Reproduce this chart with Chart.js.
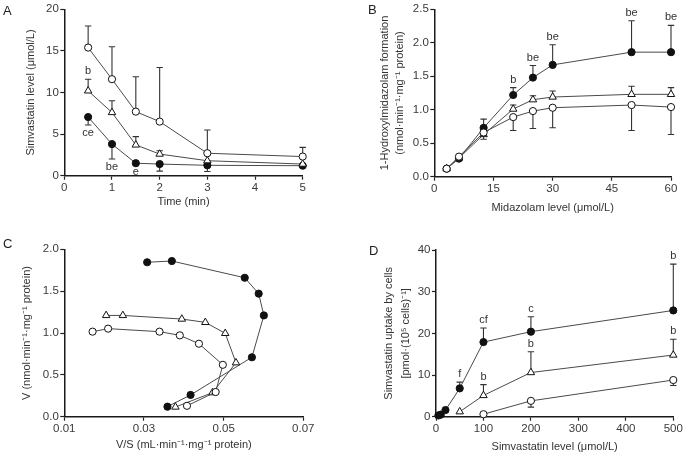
<!DOCTYPE html>
<html><head><meta charset="utf-8">
<script src="https://cdn.jsdelivr.net/npm/chart.js@4.4.1/dist/chart.umd.min.js"></script>
<style>
html,body{margin:0;padding:0;background:#fff;}
#wrap{position:relative;width:685px;height:456px;overflow:hidden;background:#fff;}
canvas{position:absolute;left:0;top:0;}
.lbl{position:absolute;font:13px 'Liberation Sans',Arial,sans-serif;color:#222;line-height:13px;}
</style></head><body>
<div id="wrap">
<canvas id="cA" width="685" height="456"></canvas>
<canvas id="cB" width="685" height="456"></canvas>
<canvas id="cC" width="685" height="456"></canvas>
<canvas id="cD" width="685" height="456"></canvas>
<div class="lbl" style="left:3px;top:3.5px">A</div>
<div class="lbl" style="left:368px;top:2.5px">B</div>
<div class="lbl" style="left:3px;top:237px">C</div>
<div class="lbl" style="left:369px;top:243.5px">D</div>
</div>
<script>
// ---------- Panel A: simvastatin level vs time ----------
const A_time = [0.5, 1, 1.5, 2, 3, 5];
const A_open = [15.4, 11.6, 7.7, 6.5, 2.7, 2.3];
const A_openErr = [18.0, 15.5, 11.9, 13.0, 5.5, 3.4];
const A_tri = [10.2, 7.6, 3.7, 2.6, 1.8, 1.4];
const A_triErr = [11.6, 9.0, 4.7, 3.0, null, null];
const A_fill = [7.05, 3.8, 1.5, 1.4, 1.25, 1.2];
const A_fillErr = [6.1, 2.0, null, 0.55, 0.5, null];
const A_xTicks = [0, 1, 2, 3, 4, 5];
const A_xLabels = ['0', '1', '2', '3', '4', '5'];
const A_yTicks = [0, 5, 10, 15, 20];
const A_yLabels = ['0', '5', '10', '15', '20'];

// ---------- Panel B: 1-hydroxymidazolam formation ----------
const B_conc = [3.125, 6.25, 12.5, 20, 25, 30, 50, 60];
const B_open = [0.12, 0.30, 0.66, 0.89, 0.98, 1.03, 1.07, 1.04];
const B_openErr = [null, null, null, 0.69, 0.72, 0.73, 0.69, 0.63];
const B_tri = [0.12, 0.28, 0.63, 1.01, 1.15, 1.19, 1.23, 1.23];
const B_triErr = [null, null, 0.56, 1.07, 1.21, 1.28, 1.35, 1.33];
const B_fill = [0.12, 0.27, 0.73, 1.22, 1.48, 1.67, 1.86, 1.86];
const B_fillErr = [null, null, 0.86, 1.33, 1.66, 1.97, 2.33, 2.26];
const B_xTicks = [0, 15, 30, 45, 60];
const B_xLabels = ['0', '15', '30', '45', '60'];
const B_yTicks = [0, 0.5, 1, 1.5, 2, 2.5];
const B_yLabels = ['0.0', '0.5', '1.0', '1.5', '2.0', '2.5'];

// ---------- Panel C: Eadie-Hofstee (V vs V/S) ----------
const C_openX = [0.0408, 0.0480, 0.0498, 0.0438, 0.0390, 0.0339, 0.0210, 0.0171];
const C_openY = [0.13, 0.295, 0.62, 0.872, 0.972, 1.016, 1.052, 1.016];
const C_triX = [0.0379, 0.0472, 0.0531, 0.0504, 0.0454, 0.0395, 0.0247, 0.0205];
const C_triY = [0.116, 0.287, 0.645, 0.996, 1.127, 1.167, 1.21, 1.21];
const C_fillX = [0.0359, 0.0417, 0.0571, 0.0601, 0.0588, 0.0553, 0.0370, 0.0308];
const C_fillY = [0.12, 0.26, 0.71, 1.21, 1.47, 1.66, 1.86, 1.845];
const C_xTicks = [0.01, 0.03, 0.05, 0.07];
const C_xLabels = ['0.01', '0.03', '0.05', '0.07'];
const C_yTicks = [0, 0.5, 1, 1.5, 2];
const C_yLabels = ['0.0', '0.5', '1.0', '1.5', '2.0'];

// ---------- Panel D: simvastatin uptake by cells ----------
const D_openConc = [100, 200, 500];
const D_open = [0.6, 3.8, 8.8];
const D_openErr = [null, 2.3, 7.5];
const D_triConc = [50, 100, 200, 500];
const D_tri = [1.2, 5.1, 10.6, 14.8];
const D_triErr = [null, 7.7, 15.6, 18.6];
const D_fillConc = [5, 10, 20, 50, 100, 200, 500];
const D_fill = [0.3, 0.5, 1.6, 6.8, 17.9, 20.4, 25.5];
const D_fillErr = [null, null, null, 8.3, 21.3, 24.0, 36.6];
const D_xTicks = [0, 100, 200, 300, 400, 500];
const D_xLabels = ['0', '100', '200', '300', '400', '500'];
const D_yTicks = [0, 10, 20, 30, 40];
const D_yLabels = ['0', '10', '20', '30', '40'];

// significance letters: series, point index, text, side
const A_notes = { tri: [{i: 0, t: 'b', dir: 'up'}], fill: [{i: 0, t: 'ce', dir: 'down'}, {i: 1, t: 'be', dir: 'down'}, {i: 2, t: 'e', dir: 'down'}] };
const B_notes = { fill: [{i: 3, t: 'b', dir: 'up'}, {i: 4, t: 'be', dir: 'up'}, {i: 5, t: 'be', dir: 'up'}, {i: 6, t: 'be', dir: 'up'}, {i: 7, t: 'be', dir: 'up'}] };
const D_notes = { tri: [{i: 1, t: 'b', dir: 'up'}, {i: 2, t: 'b', dir: 'up'}, {i: 3, t: 'b', dir: 'up'}], fill: [{i: 3, t: 'f', dir: 'up'}, {i: 4, t: 'cf', dir: 'up'}, {i: 5, t: 'c', dir: 'up'}, {i: 6, t: 'b', dir: 'up'}] };

const FONT = "'Liberation Sans', Arial, sans-serif";
Chart.defaults.font.family = FONT;

const pts = (xs, ys) => xs.map((x, i) => ({x: x, y: ys[i]}));

function series(kind, data, err, notes) {
  const filled = kind === 'fill';
  return {
    data: data,
    errEnd: err || null,
    notes: notes || [],
    showLine: true,
    borderColor: '#4a4a4a',
    borderWidth: 1,
    pointStyle: kind === 'tri' ? 'triangle' : 'circle',
    pointRadius: kind === 'tri' ? 4.3 : 3.6,
    pointBackgroundColor: filled ? '#111' : '#fff',
    pointBorderColor: '#111',
    pointBorderWidth: 1,
    clip: false,
    tension: 0
  };
}

const marks = {
  id: 'marks',
  beforeDatasetsDraw(chart) {
    const ctx = chart.ctx, xs = chart.scales.x, ys = chart.scales.y;
    ctx.save();
    ctx.strokeStyle = '#333';
    ctx.lineWidth = 1.1;
    chart.data.datasets.forEach(ds => {
      if (!ds.errEnd) return;
      ds.data.forEach((p, i) => {
        const e = ds.errEnd[i];
        if (e == null) return;
        const x = xs.getPixelForValue(p.x);
        const y0 = ys.getPixelForValue(p.y), y1 = ys.getPixelForValue(e);
        ctx.beginPath();
        ctx.moveTo(x, y0); ctx.lineTo(x, y1);
        ctx.moveTo(x - 3.2, y1); ctx.lineTo(x + 3.2, y1);
        ctx.stroke();
      });
    });
    ctx.restore();
  },
  afterDatasetsDraw(chart) {
    const ctx = chart.ctx, xs = chart.scales.x, ys = chart.scales.y;
    ctx.save();
    ctx.font = '11px ' + FONT;
    ctx.fillStyle = '#333';
    ctx.textAlign = 'center';
    ctx.textBaseline = 'middle';
    chart.data.datasets.forEach(ds => {
      ds.notes.forEach(n => {
        const p = ds.data[n.i];
        const hasErr = ds.errEnd && ds.errEnd[n.i] != null;
        const v = hasErr ? ds.errEnd[n.i] : p.y;
        const x = xs.getPixelForValue(p.x);
        const y = ys.getPixelForValue(v) + (n.dir === 'up' ? -8 : (hasErr ? 8 : 8.5));
        ctx.fillText(n.t, x, y);
      });
    });
    ctx.restore();
  }
};

function axis(ticks, labels, title, size, lineHeight, fitProp) {
  return {
    type: 'linear',
    min: ticks[0],
    max: ticks[ticks.length - 1],
    afterBuildTicks: s => { s.ticks = ticks.map(v => ({value: v})); },
    afterFit: s => { s[fitProp.prop] = fitProp.val; },
    ticks: {
      callback: (v, i) => labels[i],
      font: {size: 11.5, family: FONT},
      color: '#3a3a3a',
      padding: 1.5,
      maxRotation: 0,
      autoSkip: false
    },
    grid: {drawOnChartArea: false, drawTicks: true, tickLength: 4, tickColor: '#222', tickWidth: 1.2},
    border: {display: true, color: '#1a1a1a', width: 1.5},
    title: {display: true, text: title, font: {size: size, family: FONT, lineHeight: lineHeight}, color: '#333', padding: 0}
  };
}

function panel(id, pad, yW, xH, xAx, yAx, datasets) {
  new Chart(document.getElementById(id), {
    type: 'scatter',
    data: {datasets: datasets},
    options: {
      responsive: false,
      animation: false,
      events: [],
      layout: {padding: pad},
      plugins: {legend: {display: false}, tooltip: {enabled: false}},
      scales: {
        x: axis(xAx.ticks, xAx.labels, xAx.title, 11, 1.2, {prop: 'height', val: xH}),
        y: axis(yAx.ticks, yAx.labels, yAx.title, 11, yAx.lh || 1.2, {prop: 'width', val: yW})
      }
    },
    plugins: [marks]
  });
}

// Panel A
panel('cA', {left: 24.6, top: 9.3, right: 382.3, bottom: 247.1}, 39.7, 33.2,
  {ticks: A_xTicks, labels: A_xLabels, title: 'Time (min)'},
  {ticks: A_yTicks, labels: A_yLabels, title: 'Simvastatin level (μmol/L)'},
  [
    series('open', pts(A_time, A_open), A_openErr),
    series('tri', pts(A_time, A_tri), A_triErr, A_notes.tri),
    series('fill', pts(A_time, A_fill), A_fillErr, A_notes.fill)
  ]);

// Panel B
panel('cB', {left: 376.8, top: 9.3, right: 14, bottom: 241.1}, 57.5, 38.2,
  {ticks: B_xTicks, labels: B_xLabels, title: 'Midazolam level (μmol/L)'},
  {ticks: B_yTicks, labels: B_yLabels, title: ['1-Hydroxylmidazolam formation', '(nmol·min⁻¹·mg⁻¹ protein)'], lh: 1.4},
  [
    series('open', pts(B_conc, B_open), B_openErr),
    series('tri', pts(B_conc, B_tri), B_triErr),
    series('fill', pts(B_conc, B_fill), B_fillErr, B_notes.fill)
  ]);

// Panel C
panel('cC', {left: 20.1, top: 249.3, right: 381.7, bottom: 4.4}, 44.2, 34.9,
  {ticks: C_xTicks, labels: C_xLabels, title: 'V/S (mL·min⁻¹·mg⁻¹ protein)'},
  {ticks: C_yTicks, labels: C_yLabels, title: 'V (nmol·min⁻¹·mg⁻¹ protein)'},
  [
    series('open', pts(C_openX, C_openY)),
    series('tri', pts(C_triX, C_triY)),
    series('fill', pts(C_fillX, C_fillY))
  ]);

// Panel D
panel('cD', {left: 381, top: 250, right: 11.7, bottom: 2.7}, 55, 36.6,
  {ticks: D_xTicks, labels: D_xLabels, title: 'Simvastatin level (μmol/L)'},
  {ticks: D_yTicks, labels: D_yLabels, title: ['Simvastatin uptake by cells', '[pmol·(10⁵ cells)⁻¹]'], lh: 1.5},
  [
    series('open', pts(D_openConc, D_open), D_openErr),
    series('tri', pts(D_triConc, D_tri), D_triErr, D_notes.tri),
    series('fill', pts(D_fillConc, D_fill), D_fillErr, D_notes.fill)
  ]);
</script>
</body></html>
